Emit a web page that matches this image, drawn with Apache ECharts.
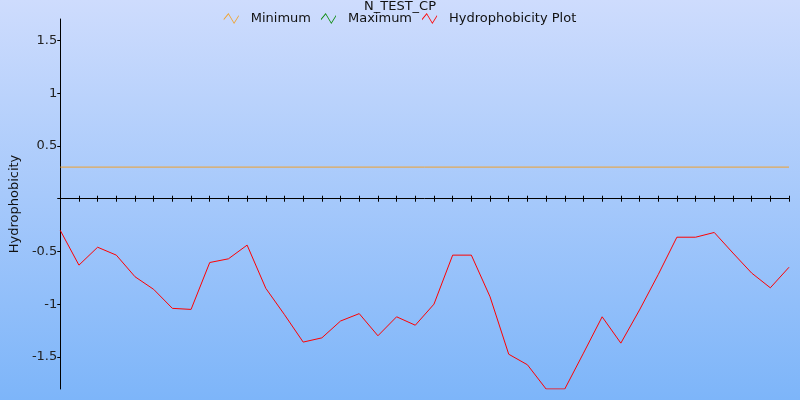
<!DOCTYPE html>
<html>
<head>
<meta charset="utf-8">
<script src="https://cdn.jsdelivr.net/npm/echarts@6/dist/echarts.min.js"></script>
<style>html,body{margin:0;padding:0;}#c{width:800px;height:400px;}</style>
</head>
<body>
<div id="c"></div>
<script>
var titleText = 'N_TEST_CP';
var seriesNames = ['Minimum', 'Maximum', 'Hydrophobicity Plot'];
var positions = [0,1,2,3,4,5,6,7,8,9,10,11,12,13,14,15,16,17,18,19,20,21,22,23,24,25,26,27,28,29,30,31,32,33,34,35,36,37,38,39];
var hydro = [-0.30,-0.63,-0.46,-0.535,-0.74,-0.86,-1.04,-1.05,-0.605,-0.57,-0.44,-0.85,-1.10,-1.36,-1.32,-1.16,-1.09,-1.30,-1.12,-1.20,-1.00,-0.535,-0.535,-0.93,-1.475,-1.575,-1.805,-1.805,-1.465,-1.12,-1.37,-1.055,-0.72,-0.365,-0.365,-0.32,-0.515,-0.705,-0.845,-0.65];
var yTickValues = [-1.5, -1, -0.5, 0, 0.5, 1, 1.5];
var minimumValue = 0.3;
var yMin = -1.805, yMax = 1.705;

var hydroData = positions.map(function (p, i) { return [p, hydro[i]]; });
var minData = [[positions[0], minimumValue], [positions[positions.length - 1], minimumValue]];

var chart = echarts.init(document.getElementById('c'));
var font = 'DejaVu Sans';
var zigzag = 'path://M0,7 L5,1 L11,11 L16,3 L16,4.6 L11,12.6 L5,2.6 L0,8.6 Z';
chart.setOption({
  backgroundColor: new echarts.graphic.LinearGradient(0, 0, 0, 1, [
    {offset: 0, color: '#cedcfd'},
    {offset: 1, color: '#7db5f9'}
  ]),
  animation: false,
  title: {
    text: titleText, left: 'center', top: -5,
    textStyle: {fontFamily: font, fontSize: 13, fontWeight: 'normal', color: '#111'}
  },
  legend: {
    top: 7, left: 'center',
    itemWidth: 15, itemHeight: 12, itemGap: 10,
    icon: zigzag,
    textStyle: {fontFamily: font, fontSize: 13, color: '#111', padding: [0, 0, 0, 7]},
    data: seriesNames
  },
  grid: {left: 59, right: 11, top: 19, bottom: 11},
  xAxis: [{
    type: 'value', min: 0, max: 39, interval: 1,
    axisLine: {onZero: true, lineStyle: {color: '#000', width: 1}},
    axisTick: {show: true, length: 3, inside: false, lineStyle: {color: '#000'}},
    axisLabel: {show: false}, splitLine: {show: false}
  }, {
    type: 'value', min: 0, max: 39, interval: 1, position: 'bottom',
    axisLine: {show: false, onZero: true, onZeroAxisIndex: 0},
    axisTick: {show: true, length: 3, inside: true, lineStyle: {color: '#000'}},
    axisLabel: {show: false}, splitLine: {show: false}
  }],
  yAxis: {
    type: 'value', min: yMin, max: yMax,
    name: 'Hydrophobicity', nameLocation: 'middle', nameGap: 38,
    nameTextStyle: {fontFamily: font, fontSize: 13, color: '#111'},
    axisLine: {show: true, onZero: false, lineStyle: {color: '#000', width: 1}},
    axisTick: {show: true, length: 3, customValues: yTickValues, lineStyle: {color: '#000'}},
    axisLabel: {
      fontFamily: font, fontSize: 13, color: '#222', margin: 3,
      customValues: yTickValues,
      formatter: function (v) { return v === 0 ? '' : String(v); }
    },
    splitLine: {show: false}
  },
  series: [{
    name: seriesNames[0], type: 'line', data: minData, showSymbol: false, symbol: 'none',
    color: '#f0a22e', lineStyle: {width: 1, color: '#f0a22e'}
  }, {
    name: seriesNames[1], type: 'line', data: [], showSymbol: false, symbol: 'none',
    color: '#0a8a0a', lineStyle: {width: 1, color: '#0a8a0a'}
  }, {
    name: seriesNames[2], type: 'line', data: hydroData, showSymbol: false, symbol: 'none',
    color: '#ff0000', lineStyle: {width: 1, color: '#ff0000'}
  }]
});
</script>
</body>
</html>
